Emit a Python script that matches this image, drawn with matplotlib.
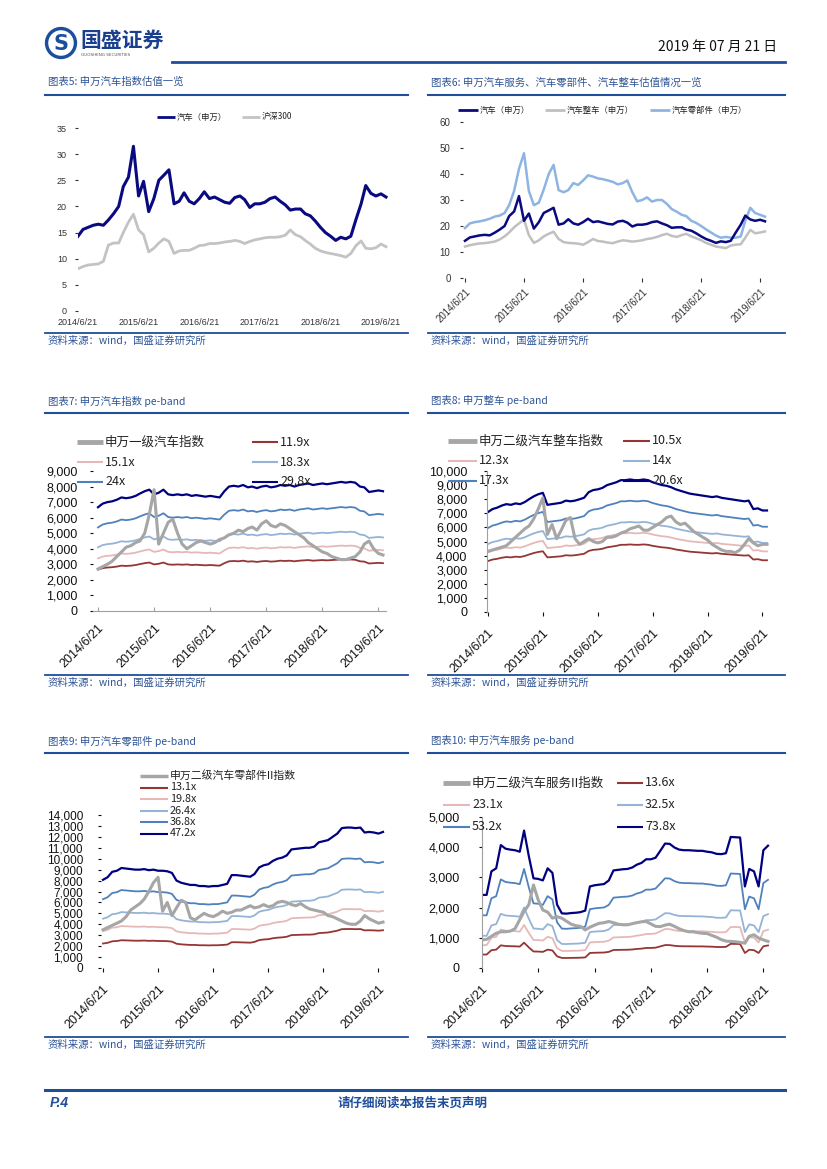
import numpy as np
import pandas as pd
import matplotlib
matplotlib.use('Agg')
import matplotlib.pyplot as plt
import matplotlib.dates as mdates
from matplotlib.lines import Line2D
from matplotlib.patches import Circle

plt.rcParams['font.family'] = ['Liberation Sans', 'Noto Sans CJK SC']
CJK = ['Noto Sans CJK SC', 'Liberation Sans']

# ---------------- data ----------------
dates = pd.date_range('2014-06-01', periods=62, freq='MS') + pd.Timedelta(days=20)
tick_dates = pd.to_datetime(['2014-06-21', '2015-06-21', '2016-06-21',
                             '2017-06-21', '2018-06-21', '2019-06-21'])
tick_labels = ['2014/6/21', '2015/6/21', '2016/6/21', '2017/6/21', '2018/6/21', '2019/6/21']

# Chart 5 / 6 : PE valuations
auto_pe = [14.3, 15.6, 16.0, 16.4, 16.6, 16.4, 17.4, 18.6, 20.0, 23.8, 25.6, 31.5,
           22.0, 24.8, 19.0, 21.5, 25.0, 26.0, 27.0, 20.5, 21.0, 22.6, 21.0, 20.5,
           21.5, 22.8, 21.5, 21.8, 21.3, 20.8, 20.6, 21.7, 22.0, 21.3, 19.8, 20.5,
           20.5, 20.8, 21.5, 21.8, 21.0, 20.3, 19.3, 19.5, 19.5, 18.6, 18.2, 17.2,
           16.0, 15.0, 14.3, 13.5, 14.1, 13.8, 14.3, 17.5, 20.5, 24.0, 22.5, 22.0,
           22.4, 21.8]
hs300_pe = [8.1, 8.5, 8.8, 8.9, 9.0, 9.5, 12.6, 13.0, 13.0, 15.0, 17.0, 18.5,
            15.5, 14.6, 11.3, 12.0, 13.0, 13.8, 13.3, 11.0, 11.5, 11.6, 11.6, 12.0,
            12.5, 12.6, 12.9, 12.9, 13.0, 13.2, 13.3, 13.5, 13.3, 12.9, 13.3, 13.6,
            13.8, 14.0, 14.1, 14.1, 14.2, 14.5, 15.5, 14.6, 14.2, 13.5, 12.8, 12.0,
            11.5, 11.2, 11.0, 10.8, 10.6, 10.3, 11.0, 12.5, 13.4, 12.0, 11.9, 12.1,
            12.8, 12.3]
vehicle_pe = [12.1, 12.6, 13.0, 13.3, 13.4, 13.7, 14.0, 14.8, 16.0, 17.5, 19.5, 21.0,
              22.5, 16.5, 13.5, 14.5, 16.0, 17.0, 17.8, 15.0, 13.8, 13.5, 13.4, 13.2,
              12.8, 13.8, 15.0, 14.2, 14.0, 13.6, 13.4, 14.0, 14.5, 14.3, 14.0, 14.2,
              14.5, 15.0, 15.3, 15.8, 16.5, 17.0, 16.2, 15.8, 16.5, 17.0, 16.0, 15.3,
              14.5, 13.5, 12.8, 12.1, 11.8, 11.5, 12.5, 12.8, 13.0, 15.5, 18.5, 17.2,
              17.5, 17.9]
parts_pe = [19.2, 21.0, 21.5, 21.8, 22.2, 22.8, 23.6, 24.0, 25.0, 28.0, 33.5, 42.0,
            48.0, 33.5, 28.0, 29.0, 34.0, 40.0, 43.5, 33.8, 33.0, 33.8, 36.5, 35.8,
            37.5, 39.5, 39.0, 38.3, 38.0, 37.5, 37.0, 36.0, 36.5, 37.5, 33.0, 29.5,
            30.0, 31.0, 29.4, 30.0, 30.0, 28.5, 26.5, 25.5, 24.3, 23.8, 22.0, 21.2,
            20.0, 18.7, 17.5, 16.3, 15.5, 15.8, 15.5, 15.5, 16.0, 22.0, 27.0, 25.0,
            24.3, 23.6]

# Chart 7 : SW auto index pe-band
idx7 = [2700, 2850, 3000, 3200, 3500, 3800, 4100, 4200, 4400, 4500, 5000, 6200,
        7800, 4300, 5000, 5700, 5900, 5000, 4300, 4000, 4200, 4400, 4500, 4400,
        4300, 4400, 4600, 4700, 4900, 5000, 5200, 5100, 5300, 5400, 5200, 5600,
        5800, 5500, 5400, 5600, 5500, 5300, 5100, 4900, 4700, 4400, 4200, 4000,
        3800, 3700, 3500, 3400, 3300, 3300, 3400, 3500, 3800, 4300, 4500, 4000,
        3700, 3600]
top7 = [6670, 6900, 7000, 7050, 7150, 7300, 7250, 7300, 7400, 7550, 7700, 7800,
        7500, 7600, 7800, 7500, 7450, 7500, 7450, 7500, 7400, 7450, 7400, 7350,
        7400, 7350, 7300, 7700, 8000, 8050, 8000, 8100, 7950, 8000, 7900, 8000,
        8050, 7950, 8000, 8100, 8050, 8100, 8000, 8100, 8150, 8200, 8100, 8150,
        8200, 8150, 8200, 8250, 8300, 8250, 8300, 8250, 8000, 7950, 7650, 7700,
        7750, 7700]
mult7 = [11.9, 15.1, 18.3, 24.0, 29.8]
labels7 = ['11.9x', '15.1x', '18.3x', '24x', '29.8x']

# Chart 8 : SW vehicles pe-band
idx8 = [4300, 4400, 4500, 4600, 4700, 5000, 5300, 5600, 5900, 6100, 6600, 7300,
        8100, 5500, 6200, 5200, 5800, 6500, 6700, 5200, 4800, 5000, 5200, 5000,
        4900, 5000, 5300, 5300, 5400, 5600, 5700, 5900, 6000, 6100, 5800, 5800,
        6000, 6200, 6400, 6700, 6800, 6400, 6200, 6300, 6000, 5700, 5500, 5300,
        5100, 4800, 4600, 4400, 4300, 4300, 4200, 4400, 4800, 5200, 4900, 4700,
        4800, 4800]
top8 = [7090, 7300, 7400, 7550, 7650, 7600, 7700, 7650, 7800, 8000, 8200, 8350,
        8450, 7600, 7650, 7700, 7750, 7900, 7850, 7900, 8000, 8100, 8500, 8650,
        8700, 8800, 9000, 9100, 9200, 9350, 9350, 9400, 9350, 9350, 9400, 9350,
        9200, 9100, 9000, 8950, 8850, 8700, 8600, 8500, 8400, 8350, 8300, 8250,
        8200, 8150, 8200, 8100, 8050, 8000, 7950, 7900, 7850, 7900, 7300, 7350,
        7200, 7200]
mult8 = [10.5, 12.3, 14.0, 17.3, 20.6]
labels8 = ['10.5x', '12.3x', '14x', '17.3x', '20.6x']

# Chart 9 : SW auto parts pe-band
idx9 = [3500, 3700, 3900, 4100, 4300, 4700, 5300, 5600, 5900, 6300, 7000, 7800,
        8300, 5200, 6000, 4800, 5500, 6200, 6000, 4600, 4400, 4700, 5000, 4800,
        4700, 4900, 5200, 5000, 5100, 5300, 5300, 5500, 5700, 5500, 5600, 5800,
        5600, 5700, 6000, 6100, 6000, 5800, 5700, 5900, 5600, 5400, 5300, 5200,
        5100, 4800, 4700, 4500, 4300, 4100, 4000, 4000, 4300, 4800, 4500, 4300,
        4100, 4200]
top9 = [8070, 8300, 8800, 8900, 9150, 9100, 9050, 9000, 9000, 9050, 8950, 9000,
        8900, 8900, 8850, 8700, 8000, 7800, 7700, 7600, 7600, 7500, 7500, 7450,
        7500, 7500, 7600, 7700, 8500, 8500, 8450, 8400, 8350, 8600, 9200, 9400,
        9500, 9800, 10000, 10100, 10300, 10850, 10900, 10950, 11000, 11000, 11100, 11500,
        11600, 11700, 12000, 12300, 12800, 12850, 12850, 12800, 12850, 12400, 12450, 12400,
        12300, 12450]
mult9 = [13.1, 19.8, 26.4, 36.8, 47.2]
labels9 = ['13.1x', '19.8x', '26.4x', '36.8x', '47.2x']

# Chart 10 : SW auto services pe-band
idx10 = [930, 950, 1050, 1150, 1200, 1200, 1220, 1300, 1600, 1870, 2100, 2750,
         2250, 1920, 1850, 1650, 1700, 1650, 1550, 1450, 1400, 1380, 1260, 1350,
         1420, 1480, 1500, 1540, 1500, 1450, 1430, 1430, 1470, 1500, 1530, 1540,
         1460, 1380, 1370, 1420, 1450, 1380, 1300, 1240, 1200, 1200, 1170, 1150,
         1140, 1080, 1020, 940, 890, 880, 870, 850, 820, 1050, 1100, 990,
         930, 880]
top10 = [2420, 2420, 3200, 3300, 4070, 3950, 3920, 3900, 3850, 4550, 3700, 2970,
         2950, 2900, 3300, 3150, 2100, 1810, 1800, 1820, 1830, 1850, 1900, 2700,
         2740, 2760, 2780, 2900, 3230, 3250, 3270, 3280, 3330, 3420, 3480, 3600,
         3600, 3650, 3880, 4120, 4110, 3990, 3920, 3900, 3900, 3890, 3880, 3880,
         3850, 3830, 3780, 3770, 3800, 4340, 4330, 4320, 2700, 3280, 3200, 2700,
         3900, 4050]
mult10 = [13.6, 23.1, 32.5, 53.2, 73.8]
labels10 = ['13.6x', '23.1x', '32.5x', '53.2x', '73.8x']

# ---------------- styles ----------------
BLUE = '#1F4E9A'
TITLE_C = '#2F5597'
NAVY = '#0A0A80'
BAND_COLORS = ['#943634', '#E6B9B8', '#95B3D7', '#4F81BD', '#000080']
IDX_GRAY = '#A6A6A6'

W, H = 827, 1169
fig = plt.figure(figsize=(W / 100, H / 100), dpi=100)


def fx(x):
    return x / W


def fy(y):
    return 1 - y / H


def hline(x0, x1, y, lw=1.4, color=BLUE):
    fig.add_artist(Line2D([fx(x0), fx(x1)], [fy(y), fy(y)], color=color, lw=lw))


def ftext(x, y, s, **kw):
    kw.setdefault('family', CJK)
    fig.text(fx(x), fy(y), s, **kw)


def leg(x0, x1, y, color, lw, label, fs, tcolor='#222222'):
    fig.add_artist(Line2D([fx(x0), fx(x1)], [fy(y), fy(y)], color=color, lw=lw,
                          solid_capstyle='butt'))
    fig.text(fx(x1 + 2), fy(y), label, fontsize=fs, va='center', ha='left',
             family=CJK, color=tcolor)


def make_ax(left, right, d0, d1, ytop, ybot, ymax):
    ax = fig.add_axes([fx(left), fy(ybot), (right - left) / W, (ybot - ytop) / H])
    t0, t1 = mdates.date2num(dates[0]), mdates.date2num(dates[-1])
    s = (t1 - t0) / (d1 - d0)
    ax.set_xlim(t0 - (d0 - left) * s, t1 + (right - d1) * s)
    ax.set_ylim(0, ymax)
    ax.patch.set_alpha(0)
    for sp in ax.spines.values():
        sp.set_visible(False)
    return ax


def section(x0, x1, ytitle, yline, title):
    ftext(x0 + 3, ytitle, title, fontsize=7.5, color=TITLE_C, va='center',
          style='italic')
    hline(x0, x1, yline, lw=1.5)


def source(x0, x1, yline):
    hline(x0, x1, yline, lw=1.3)
    ftext(x0 + 3, yline + 8, '资料来源：wind，国盛证券研究所', fontsize=7.5,
          color=TITLE_C, va='center', style='italic')


# ---------------- header ----------------
lax = fig.add_axes([fx(44), fy(60), 34 / W, 34 / H])
lax.set_xlim(-1.1, 1.1)
lax.set_ylim(-1.1, 1.1)
lax.set_aspect('equal')
lax.axis('off')
lax.add_patch(Circle((0, 0), 1.0, color='#1C4E9E'))
lax.add_patch(Circle((0, 0), 0.78, color='white'))
lax.text(0, -0.05, 'S', fontsize=15, fontweight='bold', color='#1C4E9E',
         ha='center', va='center', family='DejaVu Sans')
ftext(80, 40, '国盛证券', fontsize=15, fontweight='bold', color='#1B3F8F', va='center')
ftext(81, 55, 'GUOSHENG SECURITIES', fontsize=3, color='#555555', va='center',
      family='DejaVu Sans')
ftext(777, 47, '2019 年 07 月 21 日', fontsize=10, color='#111111', va='center', ha='right')
hline(172, 785, 62, lw=2.0)

# ---------------- titles / sources ----------------
section(45, 408, 82, 95, '图表5: 申万汽车指数估值一览')
section(428, 785, 82, 95, '图表6: 申万汽车服务、汽车零部件、汽车整车估值情况一览')
source(45, 408, 333)
source(428, 785, 333)
section(45, 408, 401, 413, '图表7: 申万汽车指数 pe-band')
section(428, 785, 401, 413, '图表8: 申万整车 pe-band')
source(45, 408, 675)
source(428, 785, 675)
section(45, 408, 741, 753, '图表9: 申万汽车零部件 pe-band')
section(428, 785, 741, 753, '图表10: 申万汽车服务 pe-band')
source(45, 408, 1037)
source(428, 785, 1037)

# ---------------- chart 5 ----------------
ax5 = make_ax(78, 390, 78, 386, 128, 311, 35)
ax5.plot(dates, hs300_pe, color='#C3C3C3', lw=2.0)
ax5.plot(dates, auto_pe, color=NAVY, lw=2.2)
ax5.set_yticks(np.arange(0, 36, 5))
ax5.tick_params(axis='y', labelsize=6.5, length=2, pad=6, colors='#333333')
ax5.set_xticks(mdates.date2num(tick_dates))
ax5.set_xticklabels(tick_labels)
ax5.tick_params(axis='x', labelsize=6.5, length=0, pad=5, colors='#333333')
leg(157, 175, 117, NAVY, 2.0, '汽车（申万）', 6)
leg(242, 260, 117, '#C3C3C3', 2.0, '沪深300', 6)

# ---------------- chart 6 ----------------
ax6 = make_ax(463, 768, 465, 765, 122, 278, 60)
ax6.plot(dates, vehicle_pe, color='#C0C0C0', lw=1.8)
ax6.plot(dates, parts_pe, color='#8EB4E3', lw=1.8)
ax6.plot(dates, auto_pe, color=NAVY, lw=1.8)
ax6.set_yticks(np.arange(0, 61, 10))
ax6.tick_params(axis='y', labelsize=7, length=2, pad=7, colors='#333333')
ax6.set_xticks(mdates.date2num(tick_dates))
ax6.set_xticklabels(tick_labels, rotation=45, ha='right', rotation_mode='anchor')
ax6.tick_params(axis='x', labelsize=7, length=3, pad=3, colors='#333333')
leg(458, 478, 110, NAVY, 2.0, '汽车（申万）', 6)
leg(545, 565, 110, '#C0C0C0', 2.0, '汽车整车（申万）', 6)
leg(650, 670, 110, '#8EB4E3', 2.0, '汽车零部件（申万）', 6)


# ---------------- pe-band helper ----------------
def peband(ax, idx, top, mults, ymax, ystep, fs_y):
    eps = np.array(top, dtype=float) / mults[-1]
    for m, c in zip(mults, BAND_COLORS):
        ax.plot(dates, eps * m, color=c, lw=1.6 if c == '#000080' else 1.3)
    ax.plot(dates, idx, color=IDX_GRAY, lw=2.2, zorder=3)
    ticks = np.arange(0, ymax + 1, ystep)
    ax.set_yticks(ticks)
    ax.set_yticklabels([f'{int(t):,}' for t in ticks])
    ax.tick_params(axis='y', labelsize=fs_y, length=2, colors='#111111')
    ax.set_xticks(mdates.date2num(tick_dates))
    ax.set_xticklabels(tick_labels, rotation=45, ha='right', rotation_mode='anchor')
    ax.tick_params(axis='x', labelsize=9, length=3, colors='#111111')


# ---------------- chart 7 ----------------
ax7 = make_ax(93, 386, 98, 383, 471, 611, 9000)
peband(ax7, idx7, top7, mult7, 9000, 1000, 9)
ax7.spines['bottom'].set_visible(True)
ax7.spines['bottom'].set_color('#A0A0A0')
ax7.tick_params(axis='y', pad=9)
ax7.tick_params(axis='x', direction='in', pad=8, color='#A0A0A0')
rows = [442, 462, 482]
leg(77, 103, rows[0], IDX_GRAY, 3.5, '申万一级汽车指数', 9)
leg(252, 278, rows[0], BAND_COLORS[0], 1.5, labels7[0], 9)
leg(77, 103, rows[1], BAND_COLORS[1], 1.5, labels7[1], 9)
leg(252, 278, rows[1], BAND_COLORS[2], 1.5, labels7[2], 9)
leg(77, 103, rows[2], BAND_COLORS[3], 1.5, labels7[3], 9)
leg(252, 278, rows[2], BAND_COLORS[4], 1.5, labels7[4], 9)

# ---------------- chart 8 ----------------
ax8 = make_ax(487, 770, 488, 767, 471, 612, 10000)
peband(ax8, idx8, top8, mult8, 10000, 1000, 9)
ax8.spines['left'].set_visible(True)
ax8.spines['left'].set_color('#A0A0A0')
ax8.tick_params(axis='y', pad=12)
ax8.tick_params(axis='x', pad=8)
rows = [441, 461, 481]
leg(448, 477, rows[0], IDX_GRAY, 3.5, '申万二级汽车整车指数', 9)
leg(623, 650, rows[0], BAND_COLORS[0], 1.5, labels8[0], 9)
leg(448, 477, rows[1], BAND_COLORS[1], 1.5, labels8[1], 9)
leg(623, 650, rows[1], BAND_COLORS[2], 1.5, labels8[2], 9)
leg(448, 477, rows[2], BAND_COLORS[3], 1.5, labels8[3], 9)
leg(623, 650, rows[2], BAND_COLORS[4], 1.5, labels8[4], 9)

# ---------------- chart 9 ----------------
ax9 = make_ax(101, 386, 103, 383, 815, 968, 14000)
peband(ax9, idx9, top9, mult9, 14000, 1000, 8.5)
ax9.tick_params(axis='y', pad=11)
ax9.tick_params(axis='x', pad=8)
rows = [776, 787.5, 799, 810.5, 822, 833.5]
leg(140, 168, rows[0], IDX_GRAY, 2.5, '申万二级汽车零部件II指数', 7.8)
for i in range(5):
    leg(140, 168, rows[i + 1], BAND_COLORS[i], 1.5, labels9[i], 7.8)

# ---------------- chart 10 ----------------
ax10 = make_ax(482, 770, 482, 768, 817, 968, 5000)
peband(ax10, idx10, top10, mult10, 5000, 1000, 9)
ax10.spines['left'].set_visible(True)
ax10.spines['left'].set_color('#A0A0A0')
ax10.tick_params(axis='y', pad=14)
ax10.tick_params(axis='x', pad=8)
rows = [783, 805, 827]
leg(443, 470, rows[0], IDX_GRAY, 3.5, '申万二级汽车服务II指数', 9)
leg(617, 643, rows[0], BAND_COLORS[0], 1.5, labels10[0], 9)
leg(443, 470, rows[1], BAND_COLORS[1], 1.5, labels10[1], 9)
leg(617, 643, rows[1], BAND_COLORS[2], 1.5, labels10[2], 9)
leg(443, 470, rows[2], BAND_COLORS[3], 1.5, labels10[3], 9)
leg(617, 643, rows[2], BAND_COLORS[4], 1.5, labels10[4], 9)

# ---------------- footer ----------------
hline(45, 785, 1090, lw=2.2)
ftext(50, 1103, 'P.4', fontsize=10, fontweight='bold', style='italic', color=BLUE,
      va='center', family=['Liberation Sans'])
ftext(413, 1103, '请仔细阅读本报告末页声明', fontsize=9, fontweight='bold', color=BLUE,
      va='center', ha='center')

fig.savefig('out.png', dpi=100)
